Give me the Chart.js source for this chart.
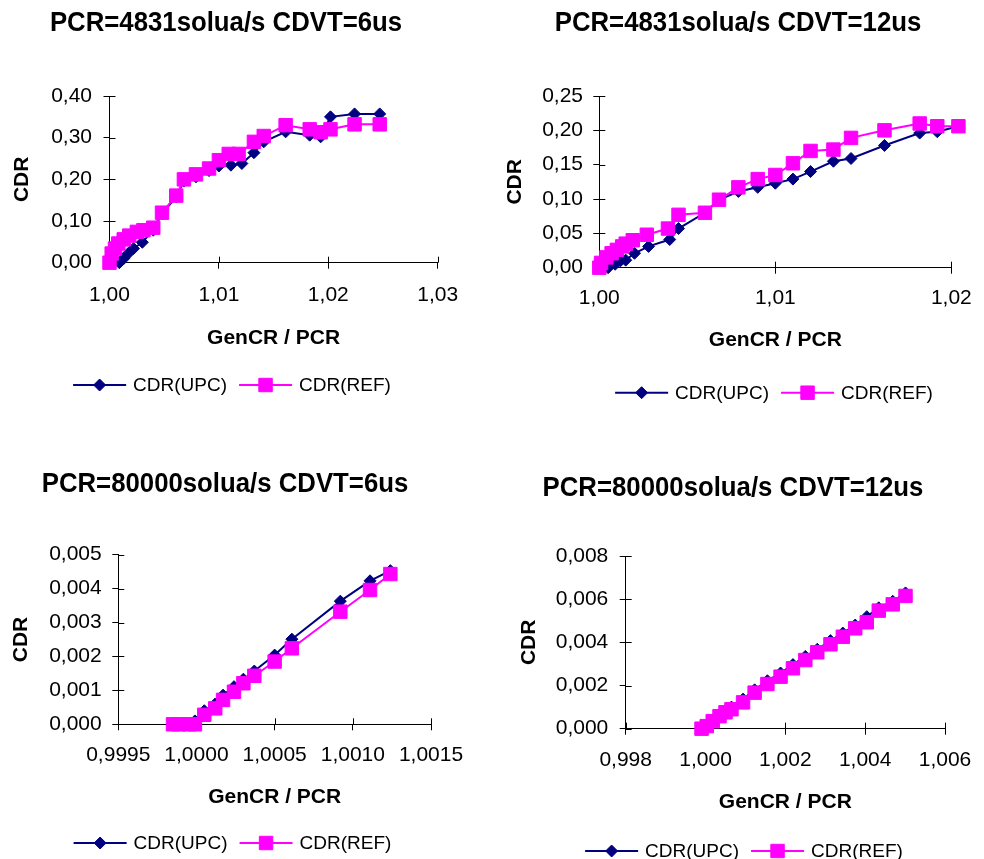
<!DOCTYPE html>
<html>
<head>
<meta charset="utf-8">
<script src="https://cdn.jsdelivr.net/npm/chart.js@4.4.0/dist/chart.umd.min.js"></script>
<style>
  body { margin: 0; background: #fff; width: 984px; height: 859px; position: relative; overflow: hidden;
         font-family: "Liberation Sans", Arial, sans-serif; }
  canvas { position: absolute; }
  .ttl { position: absolute; font-weight: bold; font-size: 28px; line-height: 28px; white-space: nowrap;
         transform: translateX(-50%) scaleX(0.92); color: #000; }
</style>
</head>
<body>
<canvas id="c1" width="492" height="430" style="left:0;top:0"></canvas>
<canvas id="c2" width="492" height="430" style="left:492px;top:0"></canvas>
<canvas id="c3" width="492" height="429" style="left:0;top:430px"></canvas>
<canvas id="c4" width="492" height="429" style="left:492px;top:430px"></canvas>

<div class="ttl" style="left:226px;top:8px">PCR=4831solua/s CDVT=6us</div>
<div class="ttl" style="left:738px;top:8px">PCR=4831solua/s CDVT=12us</div>
<div class="ttl" style="left:225px;top:469px">PCR=80000solua/s CDVT=6us</div>
<div class="ttl" style="left:733px;top:473px">PCR=80000solua/s CDVT=12us</div>

<script>
// --- data ---
// chart 1: PCR=4831 CDVT=6us
const c1UpcX = [1.0009, 1.0013, 1.0017, 1.0022, 1.0030, 1.0040, 1.0048, 1.0061, 1.0068, 1.0079, 1.0091,
                1.0100, 1.0111, 1.0121, 1.0132, 1.0141, 1.0161, 1.0183, 1.0193, 1.0202, 1.0224, 1.0247];
const c1UpcY = [0.000, 0.010, 0.022, 0.034, 0.049, 0.078, 0.118, 0.158, 0.196, 0.206, 0.221,
                0.232, 0.234, 0.238, 0.264, 0.290, 0.314, 0.306, 0.302, 0.350, 0.357, 0.357];
const c1RefX = [1.0000, 1.0002, 1.0005, 1.0008, 1.0013, 1.0018, 1.0025, 1.0031, 1.0040, 1.0048, 1.0061, 1.0068,
                1.0079, 1.0091, 1.0100, 1.0109, 1.0118, 1.0132, 1.0141, 1.0161, 1.0183, 1.0193, 1.0202, 1.0224, 1.0247];
const c1RefY = [0.000, 0.022, 0.034, 0.046, 0.056, 0.065, 0.074, 0.078, 0.084, 0.120, 0.161, 0.200,
                0.212, 0.226, 0.246, 0.261, 0.261, 0.290, 0.304, 0.330, 0.320, 0.313, 0.320, 0.332, 0.332];

// chart 2: PCR=4831 CDVT=12us
const c2UpcX = [1.0005, 1.0009, 1.0012, 1.0015, 1.0020, 1.0028, 1.0040, 1.0045, 1.0060, 1.0068, 1.0079,
                1.0090, 1.0100, 1.0110, 1.0120, 1.0133, 1.0143, 1.0162, 1.0182, 1.0192, 1.0204];
const c2UpcY = [0.000, 0.005, 0.010, 0.011, 0.021, 0.031, 0.041, 0.057, 0.080, 0.099, 0.111,
                0.117, 0.123, 0.129, 0.140, 0.155, 0.159, 0.178, 0.196, 0.198, 0.206];
const c2RefX = [1.0000, 1.0001, 1.0004, 1.0007, 1.0010, 1.0013, 1.0015, 1.0019, 1.0027, 1.0039, 1.0045, 1.0060,
                1.0068, 1.0079, 1.0090, 1.0100, 1.0110, 1.0120, 1.0133, 1.0143, 1.0162, 1.0182, 1.0192, 1.0204];
const c2RefY = [0.000, 0.007, 0.015, 0.021, 0.026, 0.031, 0.035, 0.040, 0.048, 0.057, 0.077, 0.080,
                0.099, 0.117, 0.129, 0.135, 0.152, 0.170, 0.172, 0.189, 0.200, 0.210, 0.206, 0.206];

// chart 3: PCR=80000 CDVT=6us
const c3X    = [0.99985, 0.99989, 0.99995, 0.99999, 1.00005, 1.00012, 1.00017, 1.00024, 1.00030, 1.00037,
                1.00050, 1.00061, 1.00092, 1.00111, 1.00124];
const c3UpcY = [0, 0, 0, 0.00010, 0.00040, 0.00060, 0.00086, 0.00111, 0.00133, 0.00157,
                0.00204, 0.00251, 0.00363, 0.00423, 0.00453];
const c3RefY = [0, 0, 0, 0, 0.00028, 0.00047, 0.00072, 0.00096, 0.00121, 0.00143,
                0.00185, 0.00224, 0.00332, 0.00396, 0.00443];

// chart 4: PCR=80000 CDVT=12us
const c4X    = [0.99990, 1.00003, 1.00018, 1.00035, 1.00050, 1.00065, 1.00094, 1.00123, 1.00155, 1.00188,
                1.00219, 1.00250, 1.00280, 1.00313, 1.00344, 1.00375, 1.00404, 1.00434, 1.00469, 1.00501];
const c4UpcY = [0, 0.00015, 0.00040, 0.00065, 0.00085, 0.00100, 0.00137, 0.00180, 0.00222, 0.00258,
                0.00297, 0.00335, 0.00368, 0.00408, 0.00443, 0.00480, 0.00519, 0.00560, 0.00590, 0.00629];
const c4RefY = [0, 0.00012, 0.00035, 0.00058, 0.00076, 0.00090, 0.00122, 0.00167, 0.00207, 0.00241,
                0.00280, 0.00318, 0.00354, 0.00391, 0.00426, 0.00465, 0.00493, 0.00547, 0.00576, 0.00615];

const seriesNames = ['CDR(UPC)', 'CDR(REF)'];
const xTitle = 'GenCR / PCR';
const yTitle = 'CDR';

const NAVY = '#000080';
const MAGENTA = '#ff00ff';
const FONT = '"Liberation Sans", Arial, sans-serif';

Chart.defaults.font.family = FONT;
Chart.defaults.color = '#000';

function pts(xs, ys) {
    return xs.map((x, i) => ({ x: x, y: ys[i] }));
}

// tick marks that also reach into the plot (Excel style crossing ticks)
const crossTicks = {
    id: 'crossTicks',
    beforeDatasetsDraw(chart) {
        const { ctx, chartArea: a, scales: { x, y } } = chart;
        ctx.save();
        ctx.strokeStyle = '#000';
        ctx.lineWidth = 1;
        ctx.beginPath();
        x.ticks.forEach(t => {
            const p = Math.round(x.getPixelForValue(t.value)) + 0.5;
            ctx.moveTo(p, a.bottom);
            ctx.lineTo(p, a.bottom - 6);
        });
        y.ticks.forEach(t => {
            const p = Math.round(y.getPixelForValue(t.value)) + 0.5;
            ctx.moveTo(a.left, p);
            ctx.lineTo(a.left + 6, p);
        });
        ctx.stroke();
        ctx.restore();
    }
};

// legend with line + marker sample
const lineLegend = {
    id: 'lineLegend',
    afterDraw(chart, args, o) {
        const ctx = chart.ctx;
        ctx.save();
        ctx.font = '19px ' + FONT;
        ctx.textBaseline = 'middle';
        const items = chart.data.datasets.map(ds => ({ ds, w: ctx.measureText(ds.label).width }));
        const total = items.reduce((s, it) => s + o.lineLen + o.gap + it.w, 0) + o.itemGap * (items.length - 1);
        let x = o.cx - total / 2;
        items.forEach(({ ds, w }) => {
            ctx.strokeStyle = ds.borderColor;
            ctx.fillStyle = ds.backgroundColor;
            ctx.lineWidth = ds.borderWidth;
            ctx.beginPath();
            ctx.moveTo(x, o.cy);
            ctx.lineTo(x + o.lineLen, o.cy);
            ctx.stroke();
            ctx.lineWidth = 1;
            Chart.helpers.drawPoint(ctx, { pointStyle: ds.pointStyle, radius: ds.pointRadius, borderWidth: 1, rotation: 0 },
                x + o.lineLen / 2, o.cy);
            ctx.fillStyle = '#000';
            ctx.fillText(ds.label, x + o.lineLen + o.gap, o.cy + 1);
            x += o.lineLen + o.gap + w + o.itemGap;
        });
        ctx.restore();
    }
};

function makeChart(id, c) {
    const canvas = document.getElementById(id);
    const W = canvas.width, H = canvas.height;
    const padL = c.yTitleX - 12.6;
    const yW = c.area.left - padL;
    const xH = c.xTitleY + 12.6 - c.area.bottom;
    const fmt = d => v => Number(v).toFixed(d).replace('.', ',');

    new Chart(canvas, {
        type: 'scatter',
        data: {
            datasets: [{
                label: seriesNames[0],
                data: c.upc,
                showLine: true,
                borderColor: NAVY,
                backgroundColor: NAVY,
                borderWidth: 2,
                pointStyle: 'rectRot',
                pointRadius: 6,
                pointBorderWidth: 1,
                order: 1,
                clip: false
            }, {
                label: seriesNames[1],
                data: c.ref,
                showLine: true,
                borderColor: MAGENTA,
                backgroundColor: MAGENTA,
                borderWidth: 2,
                pointStyle: 'rect',
                pointRadius: 9.5,
                pointBorderWidth: 1,
                order: 0,
                clip: false
            }]
        },
        options: {
            responsive: false,
            animation: false,
            events: [],
            layout: { padding: { left: padL, right: W - c.area.right, top: c.area.top, bottom: H - c.area.bottom - xH } },
            plugins: {
                legend: { display: false },
                tooltip: { enabled: false },
                lineLegend: c.legend
            },
            scales: {
                x: {
                    type: 'linear',
                    min: c.xMin, max: c.xMax,
                    afterFit: s => { s.height = xH; },
                    grid: { drawOnChartArea: false, color: '#000', tickLength: 6 },
                    border: { color: '#000', width: 1 },
                    ticks: { stepSize: c.xStep, padding: c.xTickPad, font: { size: 21 }, color: '#000',
                             maxRotation: 0, autoSkip: false, callback: fmt(c.xDec) },
                    title: { display: true, text: xTitle, font: { size: 21, weight: 'bold' }, color: '#000', padding: 0 }
                },
                y: {
                    min: 0, max: c.yMax,
                    afterFit: s => { s.width = yW; },
                    grid: { drawOnChartArea: false, color: '#000', tickLength: 6 },
                    border: { color: '#000', width: 1 },
                    ticks: { stepSize: c.yStep, padding: c.yTickPad, font: { size: 21 }, color: '#000',
                             callback: fmt(c.yDec) },
                    title: { display: true, text: yTitle, font: { size: 21, weight: 'bold' }, color: '#000', padding: 0 }
                }
            }
        },
        plugins: [crossTicks, lineLegend]
    });
}

const legendStyle = { lineLen: 53, gap: 7, itemGap: 12 };

makeChart('c1', {
    upc: pts(c1UpcX, c1UpcY), ref: pts(c1RefX, c1RefY),
    xMin: 1.00, xMax: 1.03, xStep: 0.01, xDec: 2,
    yMax: 0.40, yStep: 0.10, yDec: 2,
    area: { left: 109.5, right: 437.7, top: 96, bottom: 262.7 },
    yTitleX: 22, xTitleY: 338, xTickPad: 13.7, yTickPad: 11.5,
    legend: Object.assign({ cx: 232, cy: 385 }, legendStyle)
});

makeChart('c2', {
    upc: pts(c2UpcX, c2UpcY), ref: pts(c2RefX, c2RefY),
    xMin: 1.00, xMax: 1.02, xStep: 0.01, xDec: 2,
    yMax: 0.25, yStep: 0.05, yDec: 2,
    area: { left: 107.3, right: 461.3, top: 96, bottom: 267.7 },
    yTitleX: 23, xTitleY: 340.5, xTickPad: 12.2, yTickPad: 10.3,
    legend: Object.assign({ cx: 282, cy: 392.7 }, legendStyle)
});

makeChart('c3', {
    upc: pts(c3X, c3UpcY), ref: pts(c3X, c3RefY),
    xMin: 0.9995, xMax: 1.0015, xStep: 0.0005, xDec: 4,
    yMax: 0.005, yStep: 0.001, yDec: 3,
    area: { left: 118.3, right: 431, top: 124.7, bottom: 294.3 },
    yTitleX: 21, xTitleY: 367.5, xTickPad: 12.1, yTickPad: 10.6,
    legend: Object.assign({ cx: 232.5, cy: 413 }, legendStyle)
});

makeChart('c4', {
    upc: pts(c4X, c4UpcY), ref: pts(c4X, c4RefY),
    xMin: 0.998, xMax: 1.006, xStep: 0.002, xDec: 3,
    yMax: 0.008, yStep: 0.002, yDec: 3,
    area: { left: 133.7, right: 453.7, top: 126, bottom: 298.7 },
    yTitleX: 37, xTitleY: 372.5, xTickPad: 12.7, yTickPad: 11.4,
    legend: Object.assign({ cx: 252, cy: 421 }, legendStyle)
});
</script>
</body>
</html>
